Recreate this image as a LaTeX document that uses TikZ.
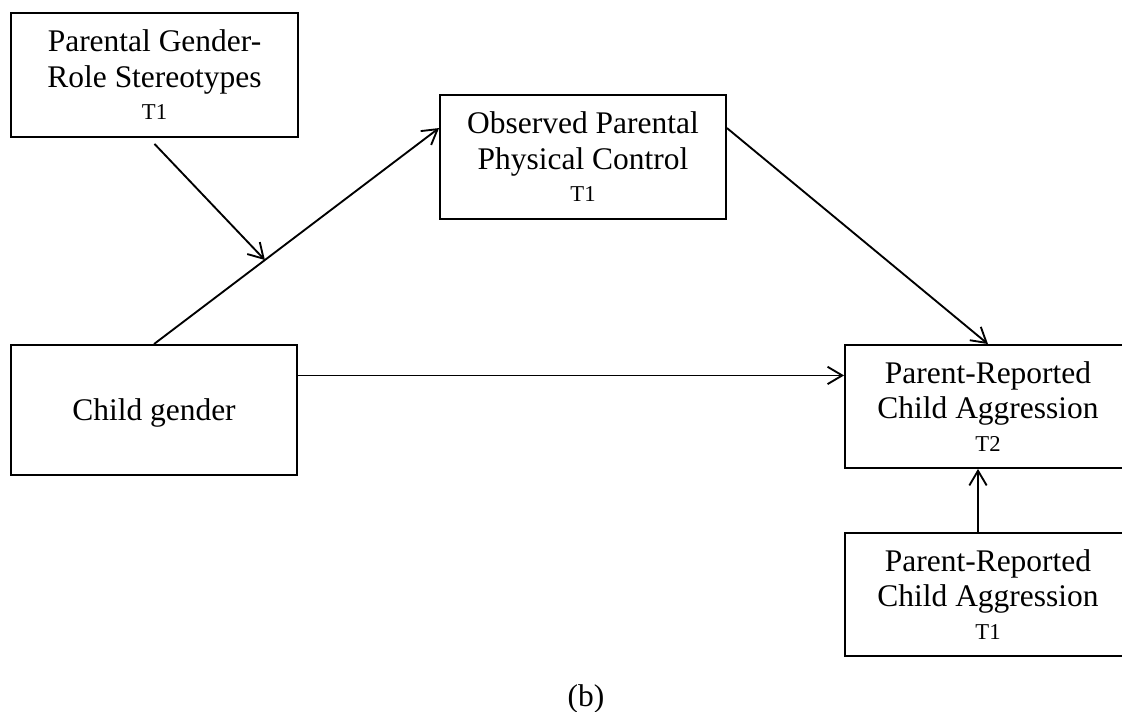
\documentclass[tikz,border=0pt]{standalone}
\usepackage{fontspec}
\setmainfont{Liberation Serif}
\usetikzlibrary{arrows.meta,calc}
\newcommand\tsmall[1]{{\fontsize{17}{20}\selectfont #1}}
\begin{document}
\begin{tikzpicture}[x=0.75pt,y=-0.75pt]
\tikzset{
  box/.style={draw, line width=1.4pt, inner sep=0pt, align=center,
    font=\fontsize{23.6}{26.5}\selectfont,
    minimum width=214.5pt, minimum height=93pt},
  arr/.style={-{Straight Barb[length=11pt,width=13pt]}, line width=1.4pt},
  caption/.style={font=\fontsize{23.6}{26.5}\selectfont, inner sep=0pt, anchor=base}
}
\useasboundingbox (0,0) rectangle (1122,712);
\clip (0,0) rectangle (1122,712);

\node[box, minimum width=215.25pt] (A) at (154.5,75)
  {Parental Gender-\\Role Stereotypes\\[-2pt]\tsmall{T1}};
\node[box] (B) at (583,157)
  {Observed Parental\\Physical Control\\[-2pt]\tsmall{T1}};
\node[box, minimum height=97.5pt, text depth=0pt] (C) at (154,410) {Child gender};
\node[box, minimum height=92.25pt] (D) at (988,406.5)
  {Parent-Reported\\Child Aggression\\[-2pt]\tsmall{T2}};
\node[box, minimum height=92.25pt] (E) at (988,594.5)
  {Parent-Reported\\Child Aggression\\[-2pt]\tsmall{T1}};
\node[caption] (lbl) at (586,707) {(b)};

\coordinate (Bw) at ($(B.north west)!0.27!(B.south west)$);
\coordinate (Be) at ($(B.north east)!0.27!(B.south east)$);
\coordinate (m) at ($(C.north)!0.389!(Bw)$);
\coordinate (Ce) at ($(C.north east)!0.238!(C.south east)$);

\draw[arr] (C.north) -- (Bw);
\draw[arr] ([yshift=-4.5pt]A.south) -- (m);
\draw[arr] (Be) -- (D.north);
\draw[arr] (Ce) -- (Ce -| D.west);
\draw[arr] ([xshift=-7.5pt]E.north) -- ([xshift=-7.5pt]D.south);
\end{tikzpicture}
\end{document}
